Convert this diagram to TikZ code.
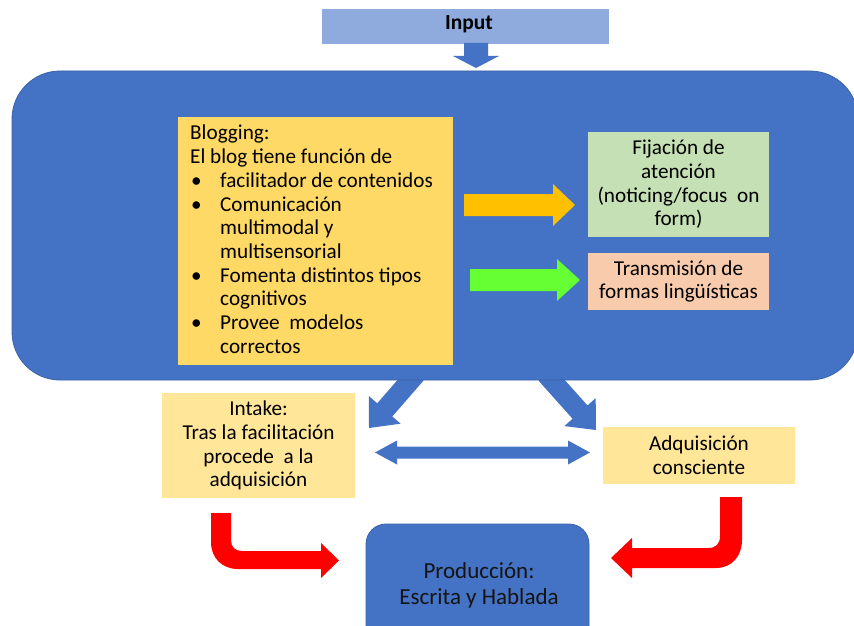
\documentclass[tikz,border=0pt]{standalone}
\usepackage{fontspec}
\setmainfont{Carlito}
\usetikzlibrary{calc}
\definecolor{pblue}{HTML}{4472C4}
\definecolor{pblueline}{HTML}{3A62AA}
\definecolor{inputblue}{HTML}{8FAADC}
\definecolor{gold}{HTML}{FFD966}
\definecolor{lightgold}{HTML}{FFE699}
\definecolor{lgreen}{HTML}{C5E0B4}
\definecolor{peach}{HTML}{F8CBAD}
\definecolor{orangearr}{HTML}{FFC000}
\definecolor{greenarr}{HTML}{66FF33}
\definecolor{redarr}{HTML}{FF0000}
\newcommand\barrow[6]{%
 \coordinate (bAtmp) at ($(#2)!#5!(#1)$);
 \fill[#6] ($(#1)!#3!90:(#2)$) -- ($(bAtmp)!#3!90:(#2)$) -- ($(bAtmp)!#4!90:(#2)$) -- (#2) -- ($(bAtmp)!#4!-90:(#2)$) -- ($(bAtmp)!#3!-90:(#2)$) -- ($(#1)!#3!-90:(#2)$) -- cycle;}
\newcommand\bul{\makebox[30pt][l]{\hspace{1pt}•}}
\newcommand\ind{\hspace*{30pt}}
\begin{document}
\begin{tikzpicture}[x=1pt,y=-1pt,
  every node/.style={font=\fontsize{21.2}{23.7}\selectfont, inner sep=0pt},
  box/.style={rectangle, draw=none, align=center},
]
\useasboundingbox (0,0) rectangle (854,626);
\fill[white] (0,0) rectangle (854,626);

% input
\node[box, fill=inputblue, minimum width=287, minimum height=35] (input) at (465.5,26.5) {};
\node[font=\fontsize{21.5}{24}\selectfont\bfseries] (inputtxt) at (469,24) {Input};
\coordinate (inA) at (476,43);
\coordinate (inB) at (476,68);
\barrow{inA}{inB}{12pt}{23pt}{12pt}{pblue}

% diagonal arrows (under the big panel)
\coordinate (dlA) at (416,374);
\coordinate (dlB) at (369,428);
\coordinate (drA) at (546,374);
\coordinate (drB) at (596,430);
\barrow{dlA}{dlB}{10pt}{21pt}{24pt}{pblue}
\barrow{drA}{drB}{10pt}{21pt}{24pt}{pblue}

% big panel
\node[box, fill=pblue, draw=pblueline, line width=0.8pt, rounded corners=48pt,
  minimum width=846, minimum height=309] (panel) at (435,225.5) {};

% blogging box
\node[box, fill=gold, minimum width=275, minimum height=248] (blog) at (315.5,241) {};
\node[anchor=north west, align=left] (blogtxt) at (190,125) {Blogging:\\
El blog tiene función de\\
\bul facilitador de contenidos\\
\bul Comunicación\\
\ind multimodal y\\
\ind multisensorial\\
\bul Fomenta distintos tipos\\
\ind cognitivos\\
\bul Provee\ \ modelos\\
\ind correctos};

% right boxes
\node[box, fill=lgreen, minimum width=181, minimum height=105] (fij) at (678.5,184.5)
  {Fijación de\\atención\\(noticing/focus\ \ on\\form)};
\node[box, fill=peach, minimum width=181, minimum height=57] (trans) at (678.5,281.5)
  {Transmisión de\\formas lingüísticas};

% arrows in panel
\coordinate (oA) at (464,205);
\coordinate (oB) at (575,205);
\barrow{oA}{oB}{11pt}{21pt}{22pt}{orangearr}
\coordinate (gA) at (470,280);
\coordinate (gB) at (580,280);
\barrow{gA}{gB}{11pt}{21pt}{23pt}{greenarr}

% lower boxes
\node[box, fill=lightgold, minimum width=193, minimum height=105] (intake) at (258.5,445.5)
  {Intake:\\Tras la facilitación\\procede\ \ a la\\adquisición};
\node[box, fill=lightgold, minimum width=192, minimum height=57] (adq) at (699,455.5)
  {Adquisición\\consciente};

% double arrow
\coordinate (hL) at (375,452.5);
\coordinate (hR) at (590,452.5);
\fill[pblue] (hL) -- ($(hL)+(22,-12)$) -- ($(hL)+(22,-6)$) -- ($(hR)+(-22,-6)$)
  -- ($(hR)+(-22,-12)$) -- (hR) -- ($(hR)+(-22,12)$) -- ($(hR)+(-22,6)$)
  -- ($(hL)+(22,6)$) -- ($(hL)+(22,12)$) -- cycle;

% production box
\node[box, fill=pblue, draw=pblueline, line width=0.8pt, rounded corners=20pt,
  minimum width=223, minimum height=130] (prod) at (477.5,589) {};
\node[align=center, font=\fontsize{23}{26}\selectfont, text=black!92] (prodtxt) at (479,585)
  {Producción:\\Escrita y Hablada};

% red bent arrows
\fill[redarr] (211,513) -- (231,513) -- (231,540)
  .. controls (231,547) and (235,551) .. (242,551) -- (321,551) -- (321,543)
  -- (339,560.5) -- (321,578) -- (321,569) -- (238,569)
  .. controls (222,569) and (211,558) .. (211,542) -- cycle;
\fill[redarr] (720,497) -- (742,497) -- (742,540)
  .. controls (742,556) and (732,568) .. (716,568) -- (632,568) -- (632,578)
  -- (611,558) -- (632,538) -- (632,548) -- (708,548)
  .. controls (716,548) and (720,544) .. (720,536) -- cycle;
\end{tikzpicture}
\end{document}
